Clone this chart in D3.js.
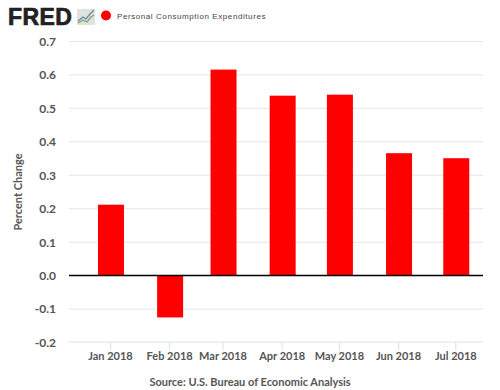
<!DOCTYPE html>
<html>
<head>
<meta charset="utf-8">
<script src="https://cdn.jsdelivr.net/npm/d3@7"></script>
<style>
  html, body { margin: 0; padding: 0; background: #fff; }
  svg { display: block; }
  text { font-family: Lato, "Open Sans", sans-serif; }
</style>
</head>
<body>
<div id="chart"></div>
<script>
// values
var months = ["2018-01-01", "2018-02-01", "2018-03-01", "2018-04-01", "2018-05-01", "2018-06-01", "2018-07-01"];
var monthLabels = ["Jan 2018", "Feb 2018", "Mar 2018", "Apr 2018", "May 2018", "Jun 2018", "Jul 2018"];
var pce = [0.212, -0.125, 0.616, 0.538, 0.541, 0.366, 0.351];
var yTicks = [-0.2, -0.1, 0.0, 0.1, 0.2, 0.3, 0.4, 0.5, 0.6, 0.7];

var seriesName = "Personal Consumption Expenditures";
var yTitle = "Percent Change";
var source = "Source: U.S. Bureau of Economic Analysis";

var width = 500, height = 390;
var margin = {top: 41.5, right: 17, bottom: 47.5, left: 69};
var barWidth = 26;
var red = "#ff0000";

var svg = d3.select("#chart")
  .append("svg")
    .attr("width", width)
    .attr("height", height);

var parseDay = d3.utcParse("%Y-%m-%d");
var dates = months.map(parseDay);

// months are not the same length, so the bars sit on a time scale
var x = d3.scaleUtc()
  .domain([parseDay("2017-12-10"), parseDay("2018-07-15")])
  .range([margin.left, width - margin.right]);

var y = d3.scaleLinear()
  .domain([-0.2, 0.7])
  .range([height - margin.bottom, margin.top]);

// gridlines
svg.append("g")
  .selectAll("line")
  .data(yTicks.filter(d => d !== -0.2))
  .join("line")
    .attr("x1", margin.left)
    .attr("x2", width - margin.right)
    .attr("y1", d => y(d))
    .attr("y2", d => y(d))
    .style("stroke", "#e6e6e6")
    .style("stroke-width", 1);

// y axis
var yAxis = d3.axisLeft(y)
  .tickValues(yTicks)
  .tickFormat(d => d.toFixed(1))   // plain hyphen on the negatives, like the original
  .tickSize(0)
  .tickPadding(13);

var yG = svg.append("g")
  .attr("transform", "translate(" + margin.left + ",0)")
  .call(yAxis);
yG.select(".domain").remove();
yG.selectAll("text")
  .style("font-size", "12px")
  .style("font-weight", "700")
  .style("fill", "#555");

// x axis
var xAxis = d3.axisBottom(x)
  .tickValues(dates)
  .tickFormat((d, i) => monthLabels[i])
  .tickSize(8)
  .tickSizeOuter(0)
  .tickPadding(2)
  .offset(-0.5);

var xG = svg.append("g")
  .attr("transform", "translate(0," + y(-0.2) + ")")
  .call(xAxis);
xG.select(".domain").style("stroke", "#d8e0ee");
xG.selectAll("line").style("stroke", "#d8e0ee");
xG.selectAll("text")
  .style("font-size", "11px")
  .style("font-weight", "700")
  .style("fill", "#555");

// bars
svg.append("g")
  .selectAll("rect")
  .data(pce)
  .join("rect")
    .attr("x", (d, i) => x(dates[i]) - barWidth / 2)
    .attr("y", d => y(Math.max(d, 0)))
    .attr("width", barWidth)
    .attr("height", d => Math.abs(y(d) - y(0)))
    .style("fill", red);

// zero line
svg.append("line")
  .attr("x1", margin.left)
  .attr("x2", width - margin.right)
  .attr("y1", y(0))
  .attr("y2", y(0))
  .style("stroke", "#000")
  .style("stroke-width", 1.5);

// y title
svg.append("text")
  .attr("transform", "translate(22," + y(0.25) + ") rotate(-90)")
  .attr("text-anchor", "middle")
  .style("font-size", "11px")
  .style("font-weight", "700")
  .style("fill", "#555")
  .text(yTitle);

// source line
svg.append("text")
  .attr("x", 250)
  .attr("y", 386)
  .attr("text-anchor", "middle")
  .style("font-size", "11px")
  .style("font-weight", "700")
  .style("fill", "#555")
  .text(source);

// logo
svg.append("text")
  .attr("x", 8)
  .attr("y", 25)
  .style("font-family", "'Liberation Sans', sans-serif")
  .style("font-size", "23px")
  .style("font-weight", "700")
  .style("letter-spacing", "0.4px")
  .style("fill", "#222")
  .style("stroke", "#222")
  .style("stroke-width", 0.7)
  .text("FRED");

var logo = svg.append("g").attr("transform", "translate(77,9)");
logo.append("rect")
  .attr("width", 18)
  .attr("height", 16)
  .style("fill", "#dfe2df");
logo.append("path")
  .attr("d", "M1,12 L6,8 L9,10 L13,5 L17,1")
  .style("fill", "none")
  .style("stroke", "#6b87aa")
  .style("stroke-width", 1.3);
logo.append("path")
  .attr("d", "M1,14 L6,11 L10,13 L14,8 L17,6")
  .style("fill", "none")
  .style("stroke", "#7fa566")
  .style("stroke-width", 1.3);

// legend
svg.append("circle")
  .attr("cx", 106)
  .attr("cy", 15.5)
  .attr("r", 5)
  .style("fill", red);

svg.append("text")
  .attr("x", 117)
  .attr("y", 18.5)
  .style("font-family", "'Liberation Sans', sans-serif")
  .style("font-size", "8px")
  .style("letter-spacing", "0.58px")
  .style("fill", "#444")
  .text(seriesName);
</script>
</body>
</html>
